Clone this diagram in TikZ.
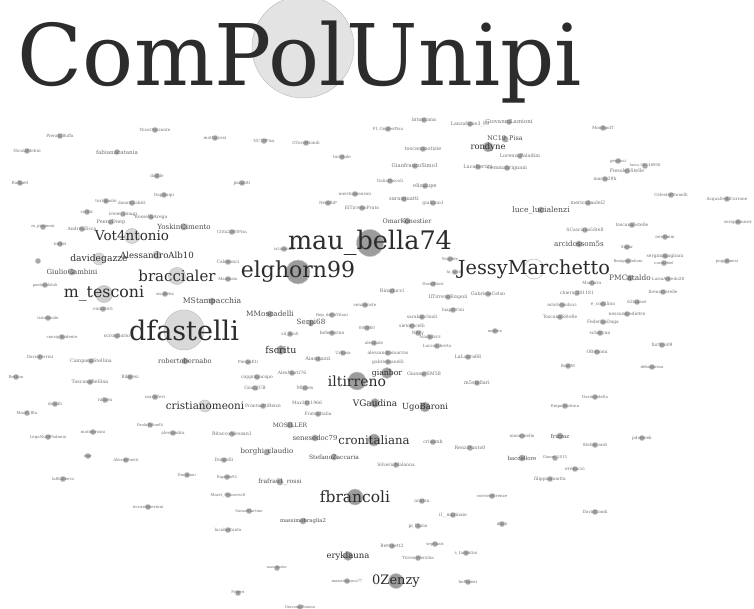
\documentclass[tikz,border=0pt]{standalone}
\usepackage{fontspec}
\setmainfont{DejaVu Serif}
\usetikzlibrary{arrows.meta}
\pgfdeclarelayer{edges}
\pgfsetlayers{edges,main}
\definecolor{edgec}{HTML}{D6D6D6}
\definecolor{nodec}{HTML}{A6A6A6}
\definecolor{hubc}{HTML}{9C9C9C}
\definecolor{lightc}{HTML}{D9D9D9}
\definecolor{txtsmall}{HTML}{707070}
\definecolor{txtmid}{HTML}{4C4C4C}
\definecolor{txtbig}{HTML}{2C2C2C}
\tikzset{
 sn/.style={circle,fill=nodec,draw=gray!35,line width=0.3pt,inner sep=0pt,minimum size=5.5pt},
 hub/.style={circle,fill=hubc,draw=gray!45,line width=0.5pt,inner sep=0pt,minimum size=#1},
 lhub/.style={circle,fill=lightc,draw=gray!50,line width=0.5pt,inner sep=0pt,minimum size=#1},
 sl/.style={text=txtsmall,inner sep=0pt,font=\fontsize{#1}{#1}\selectfont},
 ml/.style={text=txtmid,inner sep=0pt,font=\fontsize{#1}{#1}\selectfont},
 bl/.style={text=txtbig,inner sep=0pt,font=\fontsize{#1}{#1}\selectfont},
 ed/.style={draw=edgec,line width=0.35pt},
 med/.style={draw=gray!40,line width=0.8pt},
 thk/.style={draw=gray!40,line width=1.4pt},
 thkarr/.style={draw=gray!50,line width=2.6pt,-{Triangle[length=10pt,width=9pt]}},
}
\begin{document}
\begin{tikzpicture}[x=1pt,y=-1pt]
\useasboundingbox[fill=white] (0,0) rectangle (754,609);
% main hub
\node[lhub=102pt,fill=gray!22] (cpu) at (303,47) {};
\node[bl=85,anchor=base] (title) at (300,86) {ComPolUnipi};
% small nodes
\foreach \nm/\x/\y/\t/\fs in {
pb/60/136/PierattiBuffa/4.2, nm/27/151/NicolaMelini/4.2, rf/20/183/Raffaeti/4.2,
no/155/130/NicoOrizzonte/4.2, fc/117/152/fabianacatania/5.6, df/157/176/dalfile/4.2,
dd/164/195/DapDaipi/4.2, tp/106/201/torripaolo/4.2, dn/132/203/donatellab62/4.2,
sc/87/212/sciltic/4.2, ic/123/214/irene\_cinagi/4.5, ra/151/217/RossellaArega/4.5,
pd/111/222/PennyDnep/5, mp/43/227/m\_piagnoni/4, az/82/229/AndreaZicca/4.5,
to/60/244/tordei/4.2, mr/215/138/mattarossi/4.2, nc/264/141/NC19Pisa/4.2,
gt/306/143/GTorreRondi/4.2, ts/342/157/turistale/4.2, fg/388/129/FI\_GonfesPisa/4.2,
pz/242/183/panzoti/4.5, ms/355/194/meritoimensini/4.2, nb/328/203/NeroBiP/4.2,
ep/362/208/ElTirrenoPrato/4.5, cpp/232/232/Citta2000Pisa/4.2, sd/284/249/scialando/4.2,
cn/228/262/Calenonci/4.5, it/424/120/intoscana/5, lf/470/124/Lanzafame3\_99/4.8,
gl/509/122/GiovanniLamioni/5.5, tn/423/149/toscanonotizie/5, lp/520/156/LorenzoPaladini/4.9,
gs/415/166/GianfrancoSimo1/5.3, lb/478/167/LucaBertini/4.9, gm/507/168/Gemmabrignani/4.9,
ip/390/181/ItaliaPascoli/4.2, el/425/186/elisalupe/5.2, sg/404/199/sarasguatti/5.2,
gi/433/203/giuliano1/4.5, yb/450/259/Youpble/4, msp/603/128/MonSpolT/4.2,
gn/618/161/genilasi/4, lu/645/166/lucia\_0E148908/3.8, fs/627/171/Fiesole5Stelle/4.8,
mb/605/179/marco29b/4.5, cb/671/195/CelestePitonelli/4.2, ac/727/199/AcquafrediCorrane/4.2,
me/588/203/mericobaalei2/4.8, t5/632/225/toscana5stelle/4.5, sn/738/222/serapahnicer/4.2,
sca/585/230/SCasciano5Stell/4.5, nd/665/237/nerdimm/4.2, si/627/247/Sigiar/4,
sm/665/256/sergimagagliani/4.5, bo/628/261/Bonignodoliani/3.8, cf/664/263/carafabiel/3.8,
pg/727/261/poggibonsi/4, x1/38/261/{}/4, pc/45/285/paolocafaloli/3.8,
ss/165/294/sisalfelix/4, cv/103/309/comvieri/4.5, tf/48/318/tiziofimale/4,
ci/62/337/consiglioidente/4, sf/117/336/scronfiorio/4.8, dfe/40/357/DarioFerrini/4.2,
cs/91/361/CampanaStellina/4.8, bt/16/377/Bettino/4, bl/130/377/Bilaresi/4.5,
tb/90/382/ToscanaBellina/4.8, mf/155/397/marioferi/4.2, rfa/105/400/rafaen/4.5,
ds/55/404/doselli/4.2, mbl/27/413/Macri\_Blu/4, pf/150/425/PaoloFalinelli/3.8,
mt/93/432/matteorisini/4, al/173/433/alessandra/4.2, mg/228/279/Mangiato/4,
sz/365/305/senzatoste/4.2, rv/332/315/Rep\_delSiVilani/4, oo/367/328/000860/4.2,
sl/290/334/sil\_fico0/4.2, bb/332/333/bebenorno/4.5, ale/374/343/alessiale/4.2,
ub/343/353/Urbasa/4.2, am/318/359/Aiasmazzi/5, pe/248/362/PierpaEU/4.2,
amt/292/373/AlexMarti76/4.5, cj/257/377/coppinijacopo/4.5, gj/255/388/GiacoJCB/4.5,
mx/305/388/MIchex/4.5, pr/263/406/ProntoattiRenzi/4.5, mx2/307/403/Max2011966/4.5,
fi/318/414/FrateoItalia/4.5, rta/232/434/RitaccoAlessan1/4.8, ls/455/272/la\_sarda/4,
dbz/433/284/DavidBizzi/4, rn/392/291/Rinaducci/4.8, gc/488/294/GabrielaCelso/4.8,
ite/448/297/IlTirrenoEmpoli/4.8, mar/592/283/Marfarra/4.2, ch/577/293/chiera\_201181/4.5,
msc/562/305/m5sScandicci/4.2, lpe/453/310/luapetrini/4.5, sb/422/317/sarabacchioli/4.5,
tss/560/317/Toscana5Stelle/4.5, se/412/326/sietoeccelli/4.5, mm/495/331/mmlate/3.8,
ne/418/333/Nelly/4.5, nl/430/337/Nadolavz/4.5, lcl/437/346/LuccaLibreta/4.2,
am2/388/353/alessandromarras/4.5, lal/468/357/LaLaura68/4.8, ga/388/362/gabrielnanelli/4.5,
gsm/424/374/GiannarSM58/4.8, m5/477/383/m5stellari/5, em/565/406/Empolisidrina/4,
bsm/568/366/BroSM/4, lar/668/279/LuisaAlfredo28/4.2, f5/663/292/firenze5stelle/4.2,
ec/603/304/e\_costilino/4.5, ln/637/302/62lanase/4.2, ni/627/314/nessunoindietro/4.5,
fd/603/322/FedericaDaga/4.5, sy/600/333/scheryno/4.5, fu/662/345/furtivo09/4.5,
ob/597/352/OBenomi/4.5, dr/652/367/deborarosa/4, da/595/397/DarioArdella/4,
psk/642/438/pdreseek/4.2, lnp/48/437/LegaNordPadania/4, dr2/88/456/dair/3.8,
ap/126/460/AlfredoPaetti/3.8, lfl/63/479/lafilolibera/4, en/187/475/Emattoni/3.8,
rsn/148/507/riccardosernini/4, dz/224/460/Donzelli/4.5, rg/227/477/Rigardo92/3.8,
mcf/228/495/Macri\_Francesc0/4, smr/249/511/SanzaMartino/3.8, lbt/228/530/lucabottanta/4.2,
mpd/277/568/manupeder/3.5, mpv/347/581/massimopava77/3.8, fg2/238/593/Frigeri/3.8,
gb/300/607/GiovanniBoiano/3.8, cm/433/442/crisomb/4.8, rp/470/448/RenziPunto0/4.8,
nma/522/436/ninomaiello/4.2, gi2/555/458/Gianni\_2015/3.8, er/575/469/erenacci/4.5,
fa/550/479/filippoannotta/4.5, sfc/595/445/Stefaccardi/4.2, sm2/396/465/SilverioMalonna/4.5,
an/422/501/anatsu/4.5, cf2/492/496/corrierefirenze/4, im/453/515/il\_\_marinaio/4.5,
db/502/524/dibili/4, pl/418/526/pi\_lluzia/4.5, sp/435/544/sepeuzzi/4,
be/392/546/Bettinett2/4.5, st/466/553/s\_tarantini/4.2, tv/418/558/TirrenoVersilia/4.2,
bf/468/582/boffarent/4, dg2/595/512/DavidGoodi/4.2}
{\node[sn] (\nm) at (\x,\y) {}; \node[sl=\fs] at (\nm) {\t};}
% medium nodes
\foreach \nm/\x/\y/\t/\fs in {
ll/541/210/luce\_lucialenzi/7.7, ncp/505/139/NC19\_Pisa/6.4, ok/407/221/OmarKonestier/6.3,
yk/184/227/YoskinCimento/7.1, pmc/630/278/PMCataldo/7.4, ar/579/244/arcidossom5s/7.2,
mo/290/425/MOSILLER/6, bcl/267/452/borghi\_claudio/7, sdc/315/438/senesedoc79/6.9,
fr/280/482/frafra61\_rossi/6.1, stz/334/457/StefanoZaccaria/6, mbr/303/521/massimobraglia2/5.3,
bc/522/458/baccellore/5.5, fz/560/436/frizzaz/5.5, mst/212/301/MStampacchia/7.7,
mmo/270/314/MMoscadelli/7.3, ser/311/323/Serpi68/7.2, rob/185/361/robertobernabo/6.7,
gg/72/272/GiulioGambini/7}
{\node[sn,minimum size=6.5pt] (\nm) at (\x,\y) {}; \node[ml=\fs] at (\nm) {\t};}
% hubs
\node[hub=27pt] (mau) at (370,243) {}; \node[bl=25.5] at (mau) {mau\_bella74};
\node[hub=24pt] (elg) at (298,272) {}; \node[bl=22] at (elg) {elghorn99};
\node[lhub=40pt] (dfa) at (184,330) {}; \node[bl=27] at (dfa) {dfastelli};
\node[lhub=20pt,fill=white] (jm) at (534,269) {}; \node[bl=19.3] at (jm) {JessyMarchetto};
\node[lhub=17pt,fill=gray!32] (brac) at (177,276) {}; \node[bl=15] at (brac) {braccialer};
\node[lhub=17pt,fill=gray!38] (mtes) at (104,294) {}; \node[bl=15.8] at (mtes) {m\_tesconi};
\node[lhub=15pt] (vot) at (132,236) {}; \node[bl=13.5] at (vot) {Vot4ntonio};
\node[lhub=12pt] (dg) at (99,259) {}; \node[bl=9.2] at (dg) {davidegazze};
\node[hub=8pt,fill=gray!45] (aab) at (157,255) {}; \node[bl=8.6] at (aab) {AlessandroAlb10};
\node[hub=18pt] (ilt) at (357,381) {}; \node[bl=14] at (ilt) {iltirreno};
\node[hub=16pt] (fbr) at (355,497) {}; \node[bl=15.5] at (fbr) {fbrancoli};
\node[hub=12pt] (cro) at (374,440) {}; \node[bl=11.7] at (cro) {cronitaliana};
\node[hub=15pt] (oz) at (396,581) {}; \node[bl=13] at (oz) {0Zenzy};
\node[hub=9pt] (ery) at (348,556) {}; \node[bl=8.5] at (ery) {eryklauna};
\node[hub=10pt] (ugo) at (425,407) {}; \node[bl=8.4] at (ugo) {UgoBaroni};
\node[hub=9pt] (vga) at (375,403) {}; \node[bl=8.9] at (vga) {VGaudina};
\node[lhub=12pt] (cri) at (205,406) {}; \node[bl=10.4] at (cri) {cristianomeoni};
\node[hub=9pt] (fsc) at (281,350) {}; \node[bl=9.5] at (fsc) {fscritu};
\node[hub=10pt] (ron) at (488,147) {}; \node[bl=8.4] at (ron) {rondyne};
\node[hub=11pt] (gbr) at (387,373) {}; \node[bl=7.7] at (gbr) {gianbor};
% edges
\begin{pgfonlayer}{edges}
\foreach \a/\b in {cpu/fc,cpu/no,cpu/mr,cpu/nc,cpu/gt,cpu/ts,cpu/fg,cpu/pz,cpu/cpp,cpu/yk,cpu/vot,cpu/aab,
cpu/brac,cpu/dfa,cpu/elg,cpu/ilt,cpu/it,cpu/lf,cpu/tn,cpu/gs,cpu/el,cpu/ok,cpu/sg,cpu/ms,cpu/nb,cpu/ep,
cpu/jm,cpu/ll,cpu/fsc,cpu/mst,cpu/mmo,cpu/ser,cpu/sd,cpu/cn,cpu/dd,cpu/df,cpu/gl,cpu/lp,cpu/ncp,cpu/am,
cpu/bb,cpu/gbr,cpu/ugo,cpu/sb,cpu/rn,cpu/mau,
ilt/ugo,ilt/vga,ilt/gbr,ilt/mmo,ilt/fsc,ilt/brac,ilt/elg,ilt/cri,ilt/ser,
ilt/mau,ilt/am,ilt/amt,ilt/mx,ilt/mx2,ilt/fi,ilt/mo,ilt/bb,ilt/ub,ilt/am2,ilt/ga,ilt/gsm,ilt/rv,ilt/sz,
ilt/oo,ilt/lpe,ilt/sb,ilt/se,ilt/ne,ilt/nl,ilt/lcl,ilt/sdc,ilt/stz,ilt/bcl,ilt/pr,ilt/mst,ilt/mtes,ilt/cj,
ilt/pe,ilt/sl,ilt/rn,ilt/ok,ilt/ite,ilt/dbz,ilt/m5,
fbr/ery,fbr/cro,fbr/mbr,fbr/cf2,fbr/an,fbr/im,fbr/pl,fbr/sm2,fbr/stz,fbr/sdc,fbr/fr,fbr/smr,
fbr/bcl,fbr/vga,fbr/ugo,fbr/mpv,fbr/be,fbr/tv,
oz/tv,oz/be,oz/sp,oz/pl,oz/an,oz/ery,oz/cro,oz/st,oz/im,oz/cf2,oz/bf,oz/mpv,oz/sm2,
cro/cm,cro/rp,cro/sm2,cro/an,cro/ugo,cro/vga,cro/sdc,cro/stz,
dfa/mtes,dfa/brac,dfa/sf,dfa/cs,dfa/cri,dfa/rob,dfa/vot,dfa/aab,dfa/mst,dfa/ss,dfa/cv,dfa/pz,dfa/mf,dfa/bl,
fc/vot,fc/dg,fc/ic,fc/pd,fc/aab,fc/ra,fc/dn,fc/tp,fc/mtes,fc/brac,
vot/dg,vot/aab,vot/az,vot/pd,vot/ic,vot/brac,vot/mtes,vot/gg,vot/yk,
brac/mtes,brac/aab,brac/dg,brac/mst,brac/cn,brac/yk,
elg/pz,elg/mmo,elg/mst,elg/ser,elg/sd,elg/cn,elg/brac,
mau/ok,mau/sg,mau/el,mau/gs,mau/tn,mau/ser,mau/bb,mau/oo,mau/sz,mau/yb,mau/ls,
jm/t5,jm/sca,jm/ar,jm/me,jm/msc,jm/ch,jm/mar,jm/tss,jm/pmc,jm/ec,jm/fd,jm/ob,jm/sy,jm/ni,jm/ln,jm/f5,
jm/lar,jm/si,jm/sm,jm/bo,jm/ll,jm/mm,jm/gc,jm/lal,jm/m5,jm/ron,
t5/mb,t5/fs,t5/gn,t5/cb,t5/nd,t5/si,t5/me,t5/sca,t5/ar,
ron/ncp,ron/gl,ron/lf,ron/it,ron/tn,ron/lp,ron/lb,ron/gm,ron/gs,ron/el,ron/ok,
pz/fsc,pz/mst,pz/mmo,pz/amt,pz/am,pz/cj,pz/ser,
dr/bsm,ap/al,ap/en,cri/pr,cri/rta,cri/dz,cri/mf,cri/pf,cri/al,
gbr/fbr,gbr/oz,gbr/cro,gbr/am2,gbr/ga,gbr/gsm,gbr/lcl,ugo/oz,
bc/gi2,fz/gi2,cf2/an,cf2/db,cf2/tv,cf2/rp,cf2/pl,cf2/st}
{\draw[ed] (\a) -- (\b);}
\foreach \a/\b in {ilt/fbr,fbr/oz,ilt/oz,ilt/cro,ilt/dfa}
{\draw[med] (\a) -- (\b);}
\draw[thk] (cpu) -- (ron);
\draw[thkarr] (cpu) -- (ip);
\draw[thkarr] (elg) -- (rv);
\draw[thkarr] (mau) -- (rv);
\end{pgfonlayer}
\end{tikzpicture}
\end{document}
